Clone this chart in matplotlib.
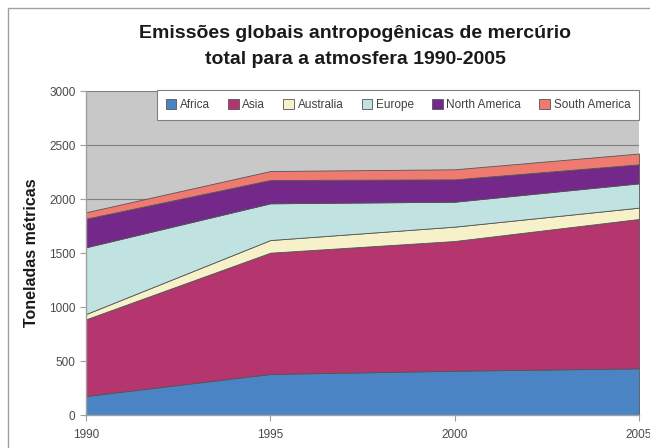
import matplotlib
matplotlib.use("Agg")
import matplotlib.pyplot as plt
from matplotlib.patches import Rectangle
import numpy as np

years = [1990, 1995, 2000, 2005]
regions = ["Africa", "Asia", "Australia", "Europe", "North America", "South America"]
africa = [176, 380, 410, 432]
asia = [710, 1123, 1201, 1383]
australia = [49, 117, 133, 105]
europe = [618, 340, 231, 225]
north_america = [265, 216, 207, 176]
south_america = [59, 83, 93, 100]
colors = ["#4a84c4", "#b5366e", "#f7f1c9", "#c0e2e0", "#73288a", "#ef7b70"]
yticks = [0, 500, 1000, 1500, 2000, 2500, 3000]

title_font = ["Liberation Sans Narrow", "Liberation Sans", "DejaVu Sans"]
body_font = ["Liberation Sans", "DejaVu Sans"]

fig = plt.figure(figsize=(6.5, 4.48), dpi=100)
fig.patch.set_facecolor("white")

# outer frame
fig.patches.append(Rectangle((8/650, -0.1), 1.2, (448-8)/448 + 0.1, transform=fig.transFigure,
                             fill=False, edgecolor="#a0a0a0", linewidth=1.0))

ax = fig.add_axes([86/650, 1 - 415/448, (639-86)/650, (415-91)/448])
ax.set_facecolor("#c8c8c8")

series = [africa, asia, australia, europe, north_america, south_america]
polys = ax.stackplot(years, *series, colors=colors, labels=regions,
                     edgecolor="#555555", linewidth=0.6)

ax.set_xlim(1990, 2005)
ax.set_ylim(0, 3000)
ax.set_yticks(yticks)
ax.set_xticks(years)
ax.yaxis.grid(True, color="#7f7f7f", linewidth=0.8)
ax.set_axisbelow(True)
for s in ["top", "right"]:
    ax.spines[s].set_visible(False)
for s in ["left", "bottom"]:
    ax.spines[s].set_color("#a0a0a0")
    ax.spines[s].set_linewidth(1.0)
ax.tick_params(axis="both", colors="#a0a0a0", labelcolor="#4a4a4a", labelsize=8.5, length=4)
for lab in ax.get_xticklabels() + ax.get_yticklabels():
    lab.set_family(body_font)
ax.tick_params(axis="x", pad=6)

ax.set_ylabel("Toneladas métricas", fontsize=11.5, fontweight="bold", family=title_font,
              color="#1a1a1a")
ax.yaxis.set_label_coords(-0.085, 0.5)

fig.text(355/650, 1 - 33/448, "Emissões globais antropogênicas de mercúrio", ha="center", va="center",
         fontsize=14, fontweight="bold", family=title_font, color="#1a1a1a")
fig.text(355/650, 1 - 60/448, "total para a atmosfera 1990-2005", ha="center", va="center",
         fontsize=14, fontweight="bold", family=title_font, color="#1a1a1a")

leg = ax.legend(loc="upper right", bbox_to_anchor=(1.0, 1.003), ncol=6, frameon=True, fancybox=False,
                framealpha=1.0, facecolor="white",
                prop={"family": body_font, "size": 8.5}, handlelength=0.9, handleheight=0.9,
                handletextpad=0.3, columnspacing=1.55, borderpad=0.75, borderaxespad=0)
leg.get_frame().set_edgecolor("#808080")
leg.get_frame().set_linewidth(0.8)
for t in leg.get_texts():
    t.set_color("#404040")

fig.savefig("out.png", dpi=100)
